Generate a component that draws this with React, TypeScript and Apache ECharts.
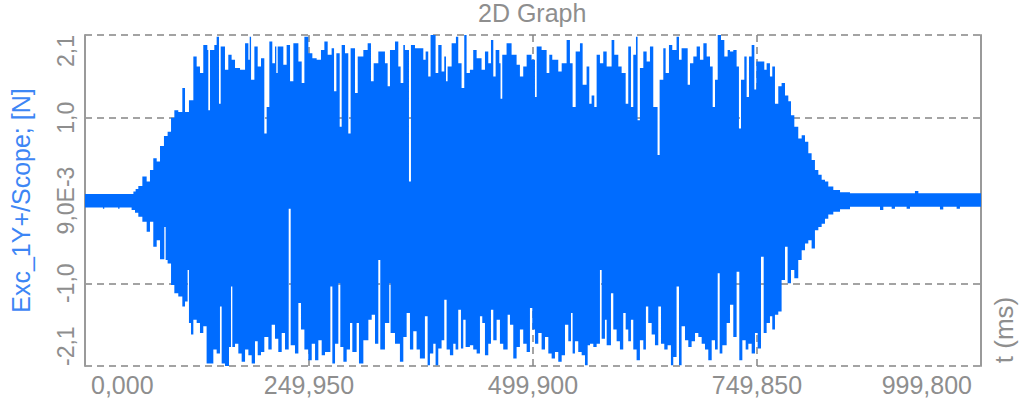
import React, { useEffect, useRef } from "react";
import * as echarts from "echarts";

// ---- data ----
// Upper envelope of the signal: column start time (ms) and maximum value (N)
const upperTime = [
  0, 54, 56.5, 59.5, 64, 68.8, 72.5, 76.2, 80, 83.7, 88.1, 92.2, 96, 99.7, 104.1, 108.6, 111.6, 116,
  120.9, 124.6, 128.3, 132, 136.5, 137.6, 139.5, 144.3, 146.9, 149.5, 151.4, 156.2, 159.9, 163.6,
  167.4, 173, 178.6, 182.3, 183.8, 185.3, 189, 192.7, 196.4, 200.1, 202.7, 205.7, 209, 212, 213.5,
  215, 221.3, 225, 228.8, 232.5, 238.1, 241.8, 244.8, 249.2, 253.7, 258.5, 263.3, 267.1, 270.8,
  275.2, 277.9, 280.5, 284.2, 286.4, 290.1, 293.8, 296.4, 301.3, 304.3, 310.6, 315.4, 319.1, 322.1,
  327.3, 334.7, 337.7, 340.3, 345.9, 349.6, 352.2, 355.2, 357, 361.5, 363.7, 368.2, 377.5, 380.1,
  383, 385.6, 391.2, 394.2, 397.9, 400.9, 402.8, 404.6, 409.1, 413.9, 416.5, 420.2, 423.2, 425.8,
  429.5, 433.2, 437, 442.5, 446.3, 450, 453, 455.6, 458.2, 462.3, 463.7, 465.6, 470.4, 476, 481.6,
  485.3, 489, 492.8, 498.3, 502.1, 504, 509.5, 515.1, 518.1, 521.4, 528.1, 531.9, 537.4, 541.1,
  544.1, 547.5, 552.3, 555.3, 559.7, 562.7, 565.3, 568.3, 570.9, 574.6, 578.3, 582.1, 587.6, 590.6,
  595.1, 598.8, 603.3, 606.2, 609.2, 611.8, 614.8, 616.6, 619.2, 623, 626.7, 630.4, 634.1, 638.9,
  641.2, 645.3, 647.9, 651.6, 655.3, 660.1, 662.8, 665.7, 669.5, 672.5, 675.1, 678.8, 682.5, 686.2,
  690, 693.7, 697.4, 700.4, 703, 706, 709.7, 713.4, 717.1, 719.7, 723.4, 727.1, 729.7, 732, 735.7,
  738.3, 740.9, 743.9, 746.9, 749.1, 758, 760.6, 764.3, 766.9, 769.9, 773.6, 777.3, 781.1, 784.8,
  787.8, 791.5, 795.9, 799.7, 803.4, 807.1, 810.8, 814.5, 818.3, 822, 825.7, 829.4, 835, 842.5,
  853.6, 926.1, 929.9, 999.8,
];
const upperValue = [
  0.08, 0.11, 0.14, 0.175, 0.29, 0.23, 0.37, 0.51, 0.47, 0.66, 0.78, 0.83, 1.0, 1.09, 1.07, 1.36, 1.07, 1.21,
  1.74, 1.62, 1.54, 1.88, 1.82, 1.09, 1.82, 1.88, 1.98, 1.17, 1.86, 1.58, 1.76, 1.7,
  1.6, 1.58, 1.9, 1.7, 1.98, 1.46, 1.86, 1.62, 1.72, 0.81, 1.13, 1.92, 1.66, 1.86, 1.54,
  1.86, 1.64, 1.88, 1.44, 1.9, 1.68, 1.42, 1.98, 1.78, 1.72, 1.7, 1.82, 1.92, 1.76,
  1.84, 1.32, 1.78, 0.89, 1.88, 1.78, 0.81, 1.84, 1.3, 1.74, 1.82, 1.9, 1.44, 1.66,
  1.8, 1.66, 1.38, 1.82, 1.92, 1.62, 1.42, 1.88, 1.82, 0.23, 1.88, 1.84, 1.7, 1.8,
  1.5, 2.0, 1.54, 1.88, 1.56, 1.74, 1.44, 1.62, 1.9, 1.98, 1.66, 1.36, 2.0, 1.54,
  1.58, 1.82, 1.72, 1.58, 1.8, 1.66, 1.94, 1.5, 1.82, 1.66, 1.23, 1.76, 1.9, 1.76, 1.64,
  1.5, 1.62, 1.76, 1.7, 1.25, 1.86, 1.82, 1.54, 1.76, 1.7, 1.56, 1.66, 1.94, 1.66,
  1.13, 1.8, 1.9, 1.4, 1.62, 1.17, 1.27, 1.13, 1.76, 1.66, 1.8, 1.62, 1.94, 1.76,
  1.62, 1.54, 1.17, 1.86, 1.13, 1.76, 1.98, 0.97, 1.6, 1.8, 1.68, 1.86, 1.13, 0.55,
  1.46, 1.84, 1.54, 1.88, 1.82, 1.98, 1.7, 1.84, 1.84, 1.4, 1.66, 1.74, 1.86, 1.7,
  1.9, 1.74, 1.62, 1.13, 1.46, 2.0, 1.94, 1.74, 1.82, 1.8, 1.82, 1.62, 0.87, 1.46, 1.74,
  1.25, 1.74, 1.88, 1.34, 1.68, 1.58, 1.66, 1.5, 1.62, 1.17, 1.38, 1.42, 1.27, 1.2,
  1.03, 0.89, 0.75, 0.79, 0.71, 0.57, 0.49, 0.37, 0.31, 0.25, 0.23, 0.17, 0.127, 0.1,
  0.087, 0.115, 0.087, 0.087,
];

// Lower envelope of the signal: column start time (ms) and minimum value (N)
const lowerTime = [
  0, 20, 21.5, 37, 38.5, 52, 55.8, 59.5, 64, 68.8, 72.5, 76.2, 80, 83.7, 88.5, 90, 92.2, 96, 99.7,
  104.1, 108.6, 111.6, 114.5, 116, 118.3, 120.9, 124.6, 128.3, 132, 135.7, 143.2, 146.9, 150.6,
  152.5, 156.2, 160.7, 162.9, 164.4, 167.4, 171.1, 174.8, 178.6, 182.3, 186, 189.7, 192.7, 196.4,
  200.1, 204.6, 208.3, 212, 215.7, 219.5, 223.2, 227.3, 229.5, 234.3, 238.1, 241, 244.8, 249.2,
  253, 256.7, 260.4, 264.1, 267.8, 273.8, 276, 279, 282.7, 284.9, 288.3, 292, 295.7, 298.3, 303.1,
  305.7, 310.6, 316.2, 319.9, 323.6, 327.3, 329.5, 334.7, 339.5, 341, 345.9, 351.4, 355.2, 358.9,
  362.6, 366.3, 370, 373.7, 379.3, 382.3, 384.9, 388.6, 391.2, 394.2, 397.9, 400.9, 403.5, 407.2,
  410.9, 413.5, 416.5, 419.5, 422.1, 424.7, 429.5, 433.2, 437, 440.7, 443.3, 446.3, 450, 453,
  455.6, 459.3, 463, 466.7, 471.6, 474.2, 477.9, 481.6, 485.3, 489, 492.8, 496.5, 499.1, 502.1,
  505.8, 509.5, 513.3, 517, 520.7, 524.4, 528.1, 531.9, 535.6, 539.3, 542.3, 544.1, 546.7, 550.4,
  554.2, 557.9, 560.9, 563.5, 567.2, 570.9, 574.6, 576.5, 580.2, 582.1, 586.9, 589.5, 593.2, 596.9,
  600.6, 603.3, 606.2, 609.2, 611.8, 615.5, 619.2, 623, 625.9, 628.5, 632.3, 636, 639.7, 642.7,
  646.4, 650.1, 653.8, 656.4, 660.1, 662.8, 665.7, 669.5, 673.2, 676.9, 680.7, 684.4, 688.1, 691.8,
  695.5, 699.3, 703, 706, 708.2, 711.2, 716, 719.7, 723.4, 727.1, 730.1, 733.5, 737.2, 740.2,
  743.9, 747.6, 750.6, 754.3, 757.3, 760.6, 764.3, 766.9, 769.9, 773.6, 777.3, 781.1, 784, 787.8,
  791.5, 795.9, 799.7, 803.4, 807.1, 810.8, 814.5, 818.3, 822, 825.7, 829.4, 835, 842.5, 853.6,
  887.1, 890.8, 900.1, 903.8, 916.8, 920.6, 954, 957.7, 972.6, 976.3, 999.8,
];
const lowerValue = [
  -0.085, -0.1, -0.085, -0.1, -0.085, -0.115, -0.147, -0.195, -0.256, -0.377, -0.256, -0.56, -0.48, -0.71, -0.32, -0.72, -0.76, -1.02, -1.12,
  -1.16, -1.28, -1.22, -0.84, -1.48, -1.62, -1.44, -1.48, -1.6, -1.52, -1.97, -1.8, -1.85, -1.28,
  -1.97, -2.0, -1.77, -1.04, -1.77, -1.73, -1.85, -1.95, -1.8, -1.87, -1.97, -1.7, -1.87, -1.83,
  -1.65, -1.8, -1.5, -1.67, -1.83, -1.6, -1.8, -0.1, -1.75, -1.85, -1.24, -1.56, -1.8, -1.93,
  -1.73, -1.93, -1.69, -1.87, -1.83, -1.04, -1.97, -1.73, -1.0, -1.77, -1.95, -1.8, -1.48, -1.83, -1.48,
  -1.97, -1.69, -1.44, -1.38, -1.73, -0.72, -1.8, -1.48, -1.0, -1.6, -1.73, -1.95, -1.65, -1.36,
  -1.8, -1.58, -1.8, -1.91, -1.4, -1.99, -1.85, -1.73, -1.99, -1.79, -1.69, -1.2, -1.8, -1.87,
  -1.73, -1.8, -1.32, -1.79, -1.44, -1.77, -1.75, -1.8, -1.85, -1.4, -1.48, -1.87, -1.73, -1.32,
  -1.69, -1.44, -1.73, -1.8, -1.38, -1.5, -1.91, -1.77, -1.56, -1.73, -1.83, -1.3, -1.56, -1.73,
  -1.6, -1.8, -1.65, -1.85, -1.91, -1.83, -1.95, -1.87, -1.5, -1.7, -1.36, -1.85, -1.7, -1.83,
  -1.87, -1.99, -1.75, -1.73, -1.77, -1.73, -0.84, -1.67, -1.44, -1.75, -1.12, -1.56, -1.7, -1.8,
  -1.36, -1.56, -1.7, -1.44, -1.8, -1.93, -1.69, -1.8, -1.28, -1.48, -1.62, -1.75, -1.28, -1.73,
  -1.8, -1.75, -1.99, -1.89, -1.04, -1.99, -1.52, -1.69, -1.77, -1.7, -1.6, -1.65, -1.73, -1.8,
  -1.93, -1.69, -1.8, -0.88, -1.85, -1.75, -1.48, -1.26, -1.65, -0.86, -1.93, -1.69, -1.8, -1.73,
  -1.85, -1.6, -1.79, -0.68, -1.6, -1.48, -1.4, -1.56, -1.38, -1.34, -0.96, -0.56, -1.0, -0.84,
  -0.94, -0.72, -0.6, -0.52, -0.48, -0.58, -0.36, -0.32, -0.28, -0.22, -0.17, -0.135, -0.107, -0.075,
  -0.115, -0.075, -0.1, -0.075, -0.1, -0.075, -0.11, -0.075, -0.1, -0.075, -0.075,
];

const xTickValues = [0, 249.95, 499.9, 749.85, 999.8];
const xTickLabels = ["0,000", "249,950", "499,900", "749,850", "999,800"];
const yTickValues = [-2, -1, 0, 1, 2];
const yTickLabels = ["-2,1", "-1,0", "9,0E-3", "1,0", "2,1"];

const TITLE = "2D Graph";
const Y_NAME = "Exc_1Y+/Scope; [N]";
const X_NAME = "t (ms)";

const BLUE = "#006cff";
const GRAY = "#8e8e8e";
const FONT = "'Liberation Sans', Arial, sans-serif";

function pickIndex(values: number[], v: number) {
  for (let i = 0; i < values.length; i++) {
    if (Math.abs(values[i] - v) < 1e-3) return i;
  }
  return -1;
}

export default function App() {
  const ref = useRef<HTMLDivElement>(null);
  useEffect(() => {
    if (!ref.current) return;
    const chart = echarts.init(ref.current, null, { renderer: "svg" });
    const upperData = upperTime.map((t, i) => [t, upperValue[i]]);
    const lowerData = lowerTime.map((t, i) => [t, lowerValue[i]]);
    const dashed = { color: "#858585", width: 1.5, type: [7, 5] as any };
    const xLabelText = { color: GRAY, fontSize: 25, fontFamily: FONT };
    chart.setOption({
      animation: false,
      title: {
        text: TITLE,
        left: 478,
        top: 0,
        padding: 0,
        textStyle: { color: GRAY, fontSize: 25, fontWeight: "normal", fontFamily: FONT },
      },
      grid: { left: 85, right: 43, top: 35, bottom: 40, containLabel: false },
      xAxis: {
        type: "value",
        min: 0,
        max: 999.8,
        interval: 249.95,
        axisLine: { show: true, lineStyle: { color: "#9a9a9a", width: 2 } },
        axisTick: { show: true, inside: false, length: 5, lineStyle: { color: "#9a9a9a", width: 2 } },
        axisLabel: {
          color: GRAY,
          fontSize: 25,
          fontFamily: FONT,
          margin: 6,
          alignMinLabel: "left",
          alignMaxLabel: "right",
          formatter: (v: number) => {
            const i = pickIndex(xTickValues, v);
            if (i < 0) return "";
            if (i === 0) return `{first|${xTickLabels[i]}}`;
            if (i === xTickValues.length - 1) return `{last|${xTickLabels[i]}}`;
            return xTickLabels[i];
          },
          rich: {
            first: { ...xLabelText, padding: [0, 0, 0, 6] },
            last: { ...xLabelText, padding: [0, 9, 0, 0] },
          },
        },
        splitLine: { show: true, lineStyle: dashed },
      },
      yAxis: [
        {
          type: "value",
          min: -2,
          max: 2,
          interval: 1,
          name: Y_NAME,
          nameLocation: "middle",
          nameRotate: 90,
          nameGap: 52,
          nameTextStyle: { color: "#3d86f5", fontSize: 25, fontFamily: FONT },
          axisLine: { show: true, lineStyle: { color: "#9a9a9a", width: 2 } },
          axisTick: { show: false },
          axisLabel: {
            color: GRAY,
            fontSize: 23,
            fontFamily: FONT,
            rotate: 90,
            margin: 8,
            alignMinLabel: "left",
            alignMaxLabel: "right",
            formatter: (v: number) => {
              const i = pickIndex(yTickValues, v);
              return i < 0 ? "" : yTickLabels[i];
            },
          },
          splitLine: { show: true, lineStyle: dashed },
        },
        {
          type: "value",
          min: -2,
          max: 2,
          interval: 1,
          position: "right",
          axisLine: { show: true, onZero: false, lineStyle: { color: "#9a9a9a", width: 2 } },
          axisTick: { show: false },
          axisLabel: { show: false },
          splitLine: { show: false },
        },
      ],
      graphic: [
        {
          type: "text",
          x: 1004,
          y: 330,
          rotation: Math.PI / 2,
          style: {
            text: X_NAME,
            fill: GRAY,
            font: `26px ${FONT}`,
            textAlign: "center",
            textVerticalAlign: "middle",
          },
        },
      ],
      series: [
        {
          type: "line",
          step: "end",
          data: upperData,
          showSymbol: false,
          silent: true,
          lineStyle: { width: 0, color: BLUE },
          areaStyle: { color: BLUE, opacity: 1, origin: -0.04 },
          z: 3,
        },
        {
          type: "line",
          step: "end",
          data: lowerData,
          showSymbol: false,
          silent: true,
          lineStyle: { width: 0, color: BLUE },
          areaStyle: { color: BLUE, opacity: 1, origin: 0.04 },
          z: 3,
        },
      ],
    });
    return () => chart.dispose();
  }, []);
  return (
    <div
      ref={ref}
      style={{ position: "fixed", left: 0, top: 0, width: 1024, height: 406, background: "#fff" }}
    />
  );
}
